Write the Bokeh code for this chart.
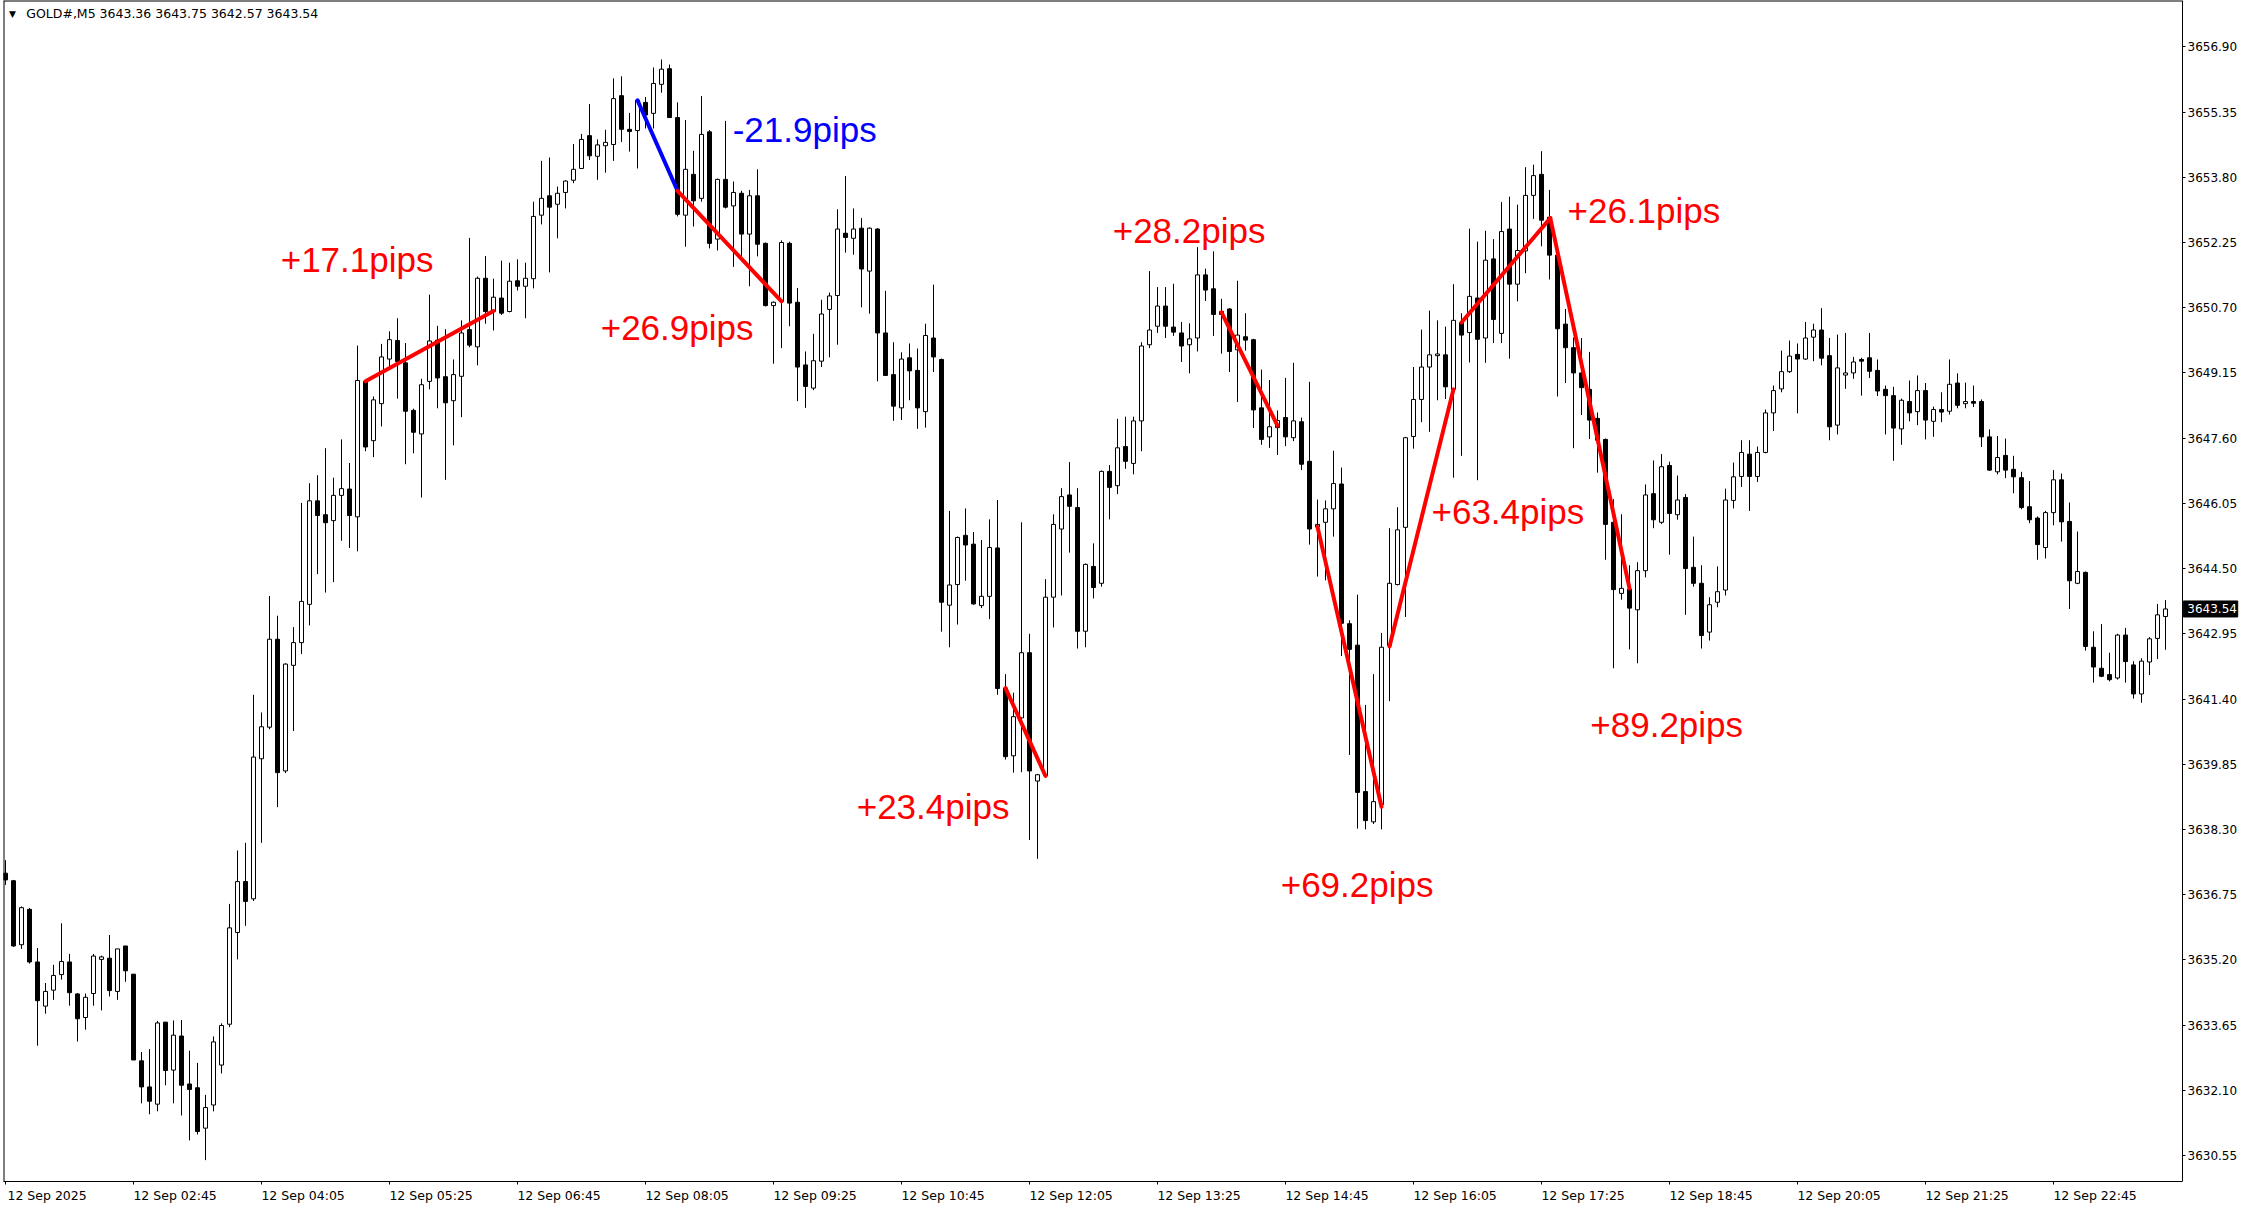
from bokeh.plotting import figure
from bokeh.models import (ColumnDataSource, FixedTicker, LinearAxis, NumeralTickFormatter,
                          CustomJSTickFormatter, Range1d)
from bokeh.embed import file_html
from bokeh.resources import INLINE
from bokeh.core.properties import value

symbol = "GOLD#,M5"

opens = [3637.26, 3637.08, 3635.56, 3636.40, 3635.15, 3634.10, 3634.48, 3634.85, 3635.15, 3634.39,
         3633.83, 3634.40, 3635.21, 3635.24, 3634.45, 3635.53, 3634.86, 3632.80, 3632.18, 3631.77,
         3633.72, 3632.58, 3633.39, 3632.25, 3632.16, 3631.20, 3631.75, 3632.70, 3633.67, 3635.85,
         3637.06, 3636.65, 3639.98, 3640.73, 3642.82, 3639.69, 3642.20, 3642.74, 3643.65, 3646.11,
         3645.78, 3645.64, 3646.24, 3646.39, 3645.73, 3648.95, 3647.54, 3648.42, 3649.48, 3649.92,
         3649.39, 3648.26, 3647.70, 3648.95, 3649.93, 3649.06, 3648.49, 3649.07, 3650.18, 3649.77,
         3651.40, 3650.61, 3650.93, 3650.61, 3651.34, 3651.21, 3651.39, 3652.90, 3653.36, 3653.16,
         3653.44, 3653.73, 3654.01, 3654.79, 3654.30, 3654.55, 3654.58, 3655.74, 3654.94, 3654.91,
         3655.58, 3655.32, 3656.01, 3656.38, 3655.22, 3652.90, 3653.87, 3653.30, 3654.88, 3652.33,
         3653.75, 3653.12, 3653.42, 3652.45, 3653.36, 3652.23, 3650.75, 3650.85, 3652.23, 3650.83,
         3649.34, 3648.79, 3649.43, 3650.66, 3650.99, 3652.47, 3652.35, 3652.59, 3651.57, 3652.57,
         3650.10, 3649.11, 3648.32, 3649.51, 3649.21, 3648.23, 3649.98, 3649.47, 3643.63, 3644.12,
         3645.29, 3645.08, 3643.62, 3643.84, 3644.99, 3641.66, 3640.05, 3640.95, 3642.50, 3639.45,
         3639.58, 3643.82, 3645.44, 3646.25, 3645.95, 3643.01, 3644.55, 3644.15, 3646.81, 3646.47,
         3647.40, 3647.00, 3648.01, 3649.82, 3650.26, 3650.74, 3650.24, 3650.10, 3649.82, 3649.98,
         3651.48, 3651.15, 3650.61, 3650.67, 3649.70, 3650.01, 3649.94, 3648.32, 3647.63, 3647.85,
         3648.09, 3647.61, 3647.99, 3647.05, 3645.49, 3645.60, 3645.92, 3646.51, 3643.19, 3642.68,
         3639.20, 3638.48, 3638.89, 3642.67, 3644.12, 3645.48, 3647.64, 3648.52, 3649.29, 3649.56,
         3649.58, 3648.76, 3650.35, 3650.11, 3650.93, 3649.98, 3651.86, 3650.09, 3652.57, 3651.26,
         3652.05, 3653.37, 3653.87, 3652.85, 3651.95, 3650.31, 3649.75, 3649.15, 3648.76, 3648.07,
         3647.57, 3645.60, 3643.91, 3644.01, 3643.52, 3644.45, 3646.28, 3645.60, 3646.95, 3645.78,
         3646.19, 3644.53, 3644.15, 3642.99, 3643.70, 3643.99, 3646.12, 3646.69, 3647.22, 3646.69,
         3647.26, 3648.20, 3648.77, 3649.18, 3649.59, 3649.48, 3650.00, 3650.17, 3649.56, 3647.91,
         3649.10, 3649.15, 3649.47, 3649.51, 3649.21, 3648.76, 3648.61, 3647.82, 3648.47, 3648.23,
         3648.73, 3648.00, 3648.28, 3648.24, 3648.91, 3648.42, 3648.47, 3648.47, 3647.63, 3646.80,
         3647.19, 3646.86, 3646.66, 3645.97, 3645.70, 3645.00, 3645.83, 3646.61, 3645.62, 3644.15,
         3644.41, 3642.63, 3642.13, 3641.98, 3641.90, 3642.92, 3642.21, 3641.52, 3642.28, 3642.84,
         3643.36]

highs = [3637.57, 3637.10, 3636.47, 3636.43, 3635.48, 3634.65, 3635.08, 3636.07, 3635.34, 3634.41,
         3634.40, 3635.34, 3635.30, 3635.79, 3635.46, 3635.53, 3634.86, 3633.01, 3633.08, 3633.75,
         3633.72, 3633.76, 3633.77, 3633.04, 3632.75, 3631.99, 3633.38, 3633.69, 3636.53, 3637.80,
         3637.98, 3641.50, 3641.08, 3643.85, 3643.38, 3642.25, 3643.11, 3646.06, 3646.53, 3646.72,
         3647.36, 3646.66, 3647.57, 3647.01, 3649.80, 3648.97, 3648.59, 3649.84, 3650.14, 3650.45,
         3649.86, 3648.30, 3649.01, 3651.01, 3650.27, 3650.19, 3649.47, 3650.40, 3652.36, 3651.44,
         3651.93, 3651.39, 3651.82, 3651.77, 3651.85, 3651.77, 3653.22, 3654.19, 3654.27, 3653.58,
         3653.73, 3654.59, 3654.83, 3655.54, 3654.70, 3654.93, 3656.15, 3656.20, 3655.33, 3655.63,
         3655.71, 3656.41, 3656.60, 3656.48, 3655.58, 3655.16, 3654.43, 3655.73, 3654.92, 3653.77,
         3655.14, 3653.70, 3653.48, 3653.50, 3653.99, 3652.25, 3650.85, 3652.30, 3652.27, 3651.17,
         3649.66, 3650.08, 3650.89, 3651.06, 3653.04, 3653.83, 3653.06, 3652.83, 3652.61, 3652.59,
         3651.10, 3649.88, 3649.64, 3649.85, 3649.73, 3650.32, 3651.25, 3649.49, 3645.87, 3645.26,
         3645.93, 3645.37, 3645.18, 3645.67, 3646.13, 3641.99, 3641.55, 3645.60, 3642.95, 3639.62,
         3644.25, 3645.79, 3646.41, 3647.03, 3646.41, 3644.62, 3645.10, 3646.83, 3646.96, 3648.06,
         3648.11, 3648.11, 3649.88, 3651.57, 3651.19, 3651.19, 3651.27, 3650.36, 3650.33, 3652.14,
         3651.63, 3652.04, 3650.91, 3650.69, 3651.34, 3650.57, 3649.96, 3649.23, 3648.98, 3648.26,
         3649.03, 3649.39, 3648.09, 3648.94, 3646.14, 3646.12, 3647.30, 3646.90, 3643.27, 3643.88,
         3641.26, 3641.99, 3642.97, 3645.46, 3645.96, 3647.63, 3649.29, 3650.18, 3650.63, 3650.40,
         3650.25, 3651.26, 3650.57, 3652.58, 3652.27, 3652.53, 3652.33, 3653.21, 3653.34, 3653.15,
         3654.04, 3654.10, 3654.42, 3653.50, 3651.97, 3650.67, 3649.99, 3649.98, 3649.65, 3648.21,
         3647.59, 3646.15, 3645.79, 3644.58, 3644.65, 3646.50, 3647.07, 3647.22, 3647.04, 3646.71,
         3646.27, 3645.26, 3644.58, 3643.82, 3644.55, 3646.40, 3647.02, 3647.55, 3647.55, 3647.40,
         3648.28, 3648.85, 3649.68, 3649.92, 3649.85, 3650.36, 3650.32, 3650.69, 3649.98, 3650.06,
         3650.10, 3649.53, 3649.51, 3650.10, 3649.47, 3648.85, 3648.82, 3648.54, 3648.97, 3649.09,
         3648.91, 3648.35, 3648.69, 3649.47, 3649.14, 3648.92, 3648.85, 3648.52, 3647.81, 3647.65,
         3647.59, 3647.18, 3646.80, 3646.58, 3645.74, 3645.87, 3646.84, 3646.76, 3646.07, 3645.38,
         3644.43, 3643.01, 3643.18, 3642.50, 3642.95, 3643.09, 3642.30, 3642.37, 3642.87, 3643.66,
         3643.75]

lows = [3636.98, 3635.51, 3635.46, 3635.11, 3633.16, 3633.92, 3634.25, 3634.73, 3634.11, 3633.26,
        3633.54, 3634.11, 3634.00, 3634.33, 3634.25, 3634.68, 3632.82, 3631.79, 3631.53, 3631.60,
        3632.22, 3631.79, 3631.50, 3630.91, 3631.05, 3630.44, 3631.60, 3632.50, 3633.60, 3635.21,
        3636.01, 3636.60, 3637.98, 3640.68, 3638.83, 3639.64, 3640.64, 3642.47, 3643.15, 3644.37,
        3643.93, 3644.18, 3645.16, 3644.99, 3644.91, 3647.29, 3647.15, 3647.88, 3649.31, 3648.54,
        3646.98, 3647.24, 3646.19, 3648.76, 3648.31, 3646.61, 3647.43, 3648.10, 3649.76, 3649.33,
        3650.32, 3650.16, 3650.53, 3650.59, 3651.11, 3650.45, 3651.16, 3652.68, 3651.54, 3652.35,
        3653.06, 3653.66, 3654.01, 3654.21, 3653.74, 3653.91, 3654.19, 3654.64, 3654.41, 3654.01,
        3654.96, 3654.96, 3655.81, 3655.22, 3652.87, 3652.15, 3652.63, 3653.22, 3652.11, 3652.06,
        3653.06, 3651.67, 3651.92, 3651.21, 3651.92, 3650.73, 3649.37, 3649.74, 3650.26, 3648.48,
        3648.32, 3648.74, 3649.29, 3649.52, 3649.82, 3652.01, 3651.96, 3650.71, 3650.56, 3648.95,
        3649.09, 3648.01, 3648.03, 3648.50, 3647.82, 3647.85, 3649.17, 3643.00, 3642.63, 3643.17,
        3644.21, 3643.64, 3643.56, 3643.30, 3641.50, 3639.96, 3639.65, 3639.66, 3638.05, 3637.60,
        3639.56, 3643.10, 3643.86, 3644.88, 3642.60, 3642.63, 3643.79, 3644.07, 3645.67, 3646.27,
        3646.87, 3646.74, 3647.29, 3649.74, 3650.10, 3649.98, 3650.03, 3649.41, 3649.14, 3649.66,
        3650.86, 3650.03, 3649.61, 3649.17, 3648.46, 3649.68, 3647.84, 3647.44, 3647.37, 3647.20,
        3647.41, 3647.53, 3646.84, 3645.07, 3644.31, 3644.22, 3645.26, 3642.42, 3640.07, 3638.32,
        3638.30, 3638.43, 3638.30, 3641.35, 3644.10, 3643.35, 3647.35, 3647.98, 3647.75, 3648.50,
        3648.53, 3646.66, 3647.18, 3649.40, 3646.60, 3649.39, 3649.86, 3649.86, 3649.49, 3650.85,
        3651.52, 3652.81, 3652.16, 3651.37, 3648.59, 3648.91, 3647.36, 3648.15, 3647.58, 3646.78,
        3644.71, 3642.13, 3643.76, 3642.58, 3642.25, 3644.29, 3645.46, 3645.56, 3644.83, 3645.66,
        3643.40, 3644.07, 3642.60, 3642.79, 3643.58, 3643.86, 3645.93, 3646.44, 3645.87, 3646.56,
        3647.24, 3647.77, 3648.69, 3649.15, 3648.19, 3649.46, 3649.43, 3649.33, 3647.55, 3647.69,
        3648.77, 3649.01, 3648.61, 3649.03, 3648.60, 3647.69, 3647.06, 3647.44, 3648.00, 3647.91,
        3647.57, 3647.63, 3647.98, 3648.16, 3648.31, 3648.31, 3648.34, 3647.39, 3646.82, 3646.74,
        3646.65, 3646.29, 3645.91, 3645.58, 3644.71, 3644.74, 3645.53, 3645.14, 3643.54, 3644.13,
        3642.55, 3641.79, 3641.92, 3641.82, 3641.86, 3641.79, 3641.41, 3641.31, 3641.97, 3642.35,
        3642.57]

closes = [3637.10, 3635.53, 3636.44, 3635.15, 3634.23, 3634.45, 3634.83, 3635.16, 3634.42, 3633.80,
          3634.31, 3635.29, 3635.27, 3634.47, 3635.46, 3634.94, 3632.82, 3632.18, 3631.84, 3633.70,
          3632.57, 3633.41, 3632.22, 3632.12, 3631.12, 3631.69, 3633.25, 3633.64, 3635.96, 3637.06,
          3636.59, 3640.02, 3640.74, 3642.82, 3639.65, 3642.23, 3642.74, 3643.72, 3646.11, 3645.76,
          3645.59, 3646.24, 3646.40, 3645.76, 3648.97, 3647.39, 3648.51, 3649.53, 3649.94, 3649.42,
          3648.24, 3647.74, 3648.87, 3649.91, 3649.03, 3648.44, 3649.11, 3650.10, 3649.81, 3651.40,
          3650.61, 3650.95, 3650.57, 3651.33, 3651.21, 3651.40, 3652.87, 3653.30, 3653.09, 3653.42,
          3653.71, 3653.99, 3654.70, 3654.31, 3654.57, 3654.63, 3655.67, 3654.94, 3654.89, 3655.63,
          3655.28, 3656.03, 3656.37, 3655.22, 3652.92, 3653.99, 3653.24, 3654.82, 3652.23, 3653.75,
          3653.09, 3653.44, 3652.45, 3653.36, 3652.21, 3650.75, 3650.83, 3652.25, 3650.81, 3649.29,
          3648.83, 3649.44, 3650.55, 3650.98, 3652.57, 3652.37, 3652.57, 3651.62, 3652.59, 3650.10,
          3649.09, 3648.36, 3649.48, 3649.20, 3648.32, 3650.04, 3649.53, 3643.70, 3644.11, 3645.24,
          3645.06, 3643.66, 3643.84, 3645.00, 3641.65, 3640.03, 3640.98, 3642.50, 3639.69, 3639.60,
          3643.82, 3645.55, 3646.21, 3645.98, 3643.01, 3644.60, 3644.05, 3646.81, 3646.43, 3647.37,
          3647.05, 3648.01, 3649.79, 3650.17, 3650.74, 3650.26, 3650.12, 3649.79, 3649.96, 3651.48,
          3651.12, 3650.54, 3650.54, 3649.66, 3650.05, 3649.93, 3648.27, 3647.57, 3647.87, 3648.02,
          3647.63, 3648.01, 3646.98, 3645.44, 3645.55, 3645.92, 3646.52, 3643.20, 3642.58, 3639.18,
          3638.51, 3638.96, 3642.63, 3644.15, 3645.42, 3647.61, 3648.52, 3649.29, 3649.58, 3649.60,
          3648.82, 3650.40, 3650.05, 3650.97, 3649.95, 3651.83, 3650.42, 3652.51, 3651.26, 3652.06,
          3653.37, 3653.84, 3652.78, 3651.95, 3650.20, 3649.75, 3649.15, 3648.80, 3648.03, 3647.55,
          3645.55, 3644.00, 3644.03, 3643.56, 3644.45, 3646.25, 3645.66, 3646.92, 3645.81, 3646.13,
          3644.50, 3644.15, 3642.91, 3643.64, 3643.95, 3646.13, 3646.68, 3647.26, 3646.69, 3647.26,
          3648.20, 3648.73, 3649.18, 3649.55, 3649.48, 3649.98, 3650.17, 3649.50, 3647.87, 3649.27,
          3649.15, 3649.41, 3649.43, 3649.19, 3648.72, 3648.61, 3647.84, 3648.50, 3648.20, 3648.73,
          3648.03, 3648.28, 3648.22, 3648.88, 3648.38, 3648.47, 3648.43, 3647.63, 3646.84, 3647.14,
          3646.84, 3646.68, 3645.95, 3645.66, 3645.07, 3645.83, 3646.61, 3645.61, 3644.21, 3644.43,
          3642.65, 3642.16, 3641.94, 3641.86, 3642.92, 3642.29, 3641.52, 3642.30, 3642.83, 3643.40,
          3643.54]

# time axis labels (one every 16 bars of 5 minutes)
time_labels = ["12 Sep 2025", "12 Sep 02:45", "12 Sep 04:05", "12 Sep 05:25", "12 Sep 06:45",
               "12 Sep 08:05", "12 Sep 09:25", "12 Sep 10:45", "12 Sep 12:05", "12 Sep 13:25",
               "12 Sep 14:45", "12 Sep 16:05", "12 Sep 17:25", "12 Sep 18:45", "12 Sep 20:05",
               "12 Sep 21:25", "12 Sep 22:45"]
label_bars = [0, 16, 32, 48, 64, 80, 96, 112, 128, 144, 160, 176, 192, 208, 224, 240, 256]

price_ticks = [3630.55, 3632.10, 3633.65, 3635.20, 3636.75, 3638.30, 3639.85, 3641.40, 3642.95,
               3644.50, 3646.05, 3647.60, 3649.15, 3650.70, 3652.25, 3653.80, 3655.35, 3656.90]

# trend-line annotations: (bar0, price0, bar1, price1, colour)
trend_lines = [
    (45, 3648.95, 61, 3650.62, "#FF0000"),
    (79, 3655.63, 84, 3653.48, "#0000FF"),
    (84, 3653.48, 97, 3650.85, "#FF0000"),
    (125, 3641.66, 130, 3639.57, "#FF0000"),
    (152, 3650.59, 159, 3647.90, "#FF0000"),
    (164, 3645.49, 172, 3638.84, "#FF0000"),
    (173, 3642.65, 181, 3648.76, "#FF0000"),
    (182, 3650.35, 193.1, 3652.83, "#FF0000"),
    (193.1, 3652.83, 203, 3644.03, "#FF0000"),
]
# pip labels: (text, bar, price, colour)
pip_labels = [
    ("+17.1pips", 34.4, 3651.84, "#FF0000"),
    ("-21.9pips", 90.9, 3654.94, "#0000FF"),
    ("+26.9pips", 74.4, 3650.23, "#FF0000"),
    ("+23.4pips", 106.4, 3638.85, "#FF0000"),
    ("+28.2pips", 138.4, 3652.53, "#FF0000"),
    ("+69.2pips", 159.4, 3636.99, "#FF0000"),
    ("+63.4pips", 178.25, 3645.86, "#FF0000"),
    ("+26.1pips", 195.25, 3653.02, "#FF0000"),
    ("+89.2pips", 198.1, 3640.79, "#FF0000"),
]

n = len(opens)
idx = list(range(n))

X0, X1 = -0.25, 279.25          # visible bar range (price scale column on the right)
SCALE_X = 272.125               # where the price scale sits
Y0, Y1 = 3629.932, 3658.002

p = figure(width=2239, height=1205, output_backend="svg", toolbar_location=None,
           x_range=Range1d(X0, X1), y_range=Range1d(Y0, Y1),
           x_axis_location=None, y_axis_location=None,
           min_border_left=3, min_border_top=0, min_border_right=0, min_border_bottom=21)
p.background_fill_color = "white"
p.border_fill_color = "white"
p.outline_line_color = None
p.grid.visible = False

# right price axis, fixed at the price-scale column
yaxis = LinearAxis(ticker=FixedTicker(ticks=price_ticks),
                   formatter=NumeralTickFormatter(format="0.00"), fixed_location=SCALE_X)
yaxis.axis_line_color = "black"
yaxis.major_tick_out = 3
yaxis.major_tick_in = 0
yaxis.major_tick_line_color = "black"
yaxis.minor_tick_line_color = None
yaxis.major_label_standoff = 2
yaxis.major_label_text_font = "DejaVu Sans"
yaxis.major_label_text_font_size = "12px"
yaxis.major_label_text_color = "black"
p.add_layout(yaxis, "right")

# bottom time axis: labels start at the tick, like MT4
label_centers = [b + 5.2 for b in label_bars]
xaxis = LinearAxis(ticker=FixedTicker(ticks=label_centers, minor_ticks=label_bars),
                   formatter=CustomJSTickFormatter(args=dict(labels=time_labels, centers=label_centers),
                                                   code="""
let best = 0, bd = 1e9;
for (let k = 0; k < centers.length; k++) {
  const d = Math.abs(centers[k] - tick);
  if (d < bd) { bd = d; best = k; }
}
return labels[best];
"""))
xaxis.bounds = (X0, SCALE_X)
xaxis.axis_line_color = "black"
xaxis.major_tick_line_color = None
xaxis.major_tick_out = 0
xaxis.major_tick_in = 0
xaxis.minor_tick_line_color = "black"
xaxis.minor_tick_out = 3
xaxis.minor_tick_in = 0
xaxis.major_label_standoff = 3
xaxis.major_label_text_font = "DejaVu Sans"
xaxis.major_label_text_font_size = "12.5px"
xaxis.major_label_text_color = "black"
p.add_layout(xaxis, "below")

# left and top borders of the chart area
p.segment(x0=[X0, X0], y0=[Y0, Y1], x1=[X0, SCALE_X], y1=[Y1, Y1], line_color="black", line_width=2)

# candles
p.segment(x0=idx, y0=lows, x1=idx, y1=highs, line_color="black", line_width=1)
bull = [i for i in idx if closes[i] >= opens[i]]
bear = [i for i in idx if closes[i] < opens[i]]
bull_src = ColumnDataSource(dict(x=bull, top=[closes[i] for i in bull], bottom=[opens[i] for i in bull]))
bear_src = ColumnDataSource(dict(x=bear, top=[opens[i] for i in bear], bottom=[closes[i] for i in bear]))
p.vbar(x="x", top="top", bottom="bottom", width=0.5, source=bull_src,
       fill_color="white", line_color="black", line_width=1)
p.vbar(x="x", top="top", bottom="bottom", width=0.5, source=bear_src,
       fill_color="black", line_color="black", line_width=1)

# trend lines
p.segment(x0=[t[0] for t in trend_lines], y0=[t[1] for t in trend_lines],
          x1=[t[2] for t in trend_lines], y1=[t[3] for t in trend_lines],
          line_color=[t[4] for t in trend_lines], line_width=4, line_cap="round")

# pip labels
p.text(x=[l[1] for l in pip_labels], y=[l[2] for l in pip_labels], text=[l[0] for l in pip_labels],
       text_color=[l[3] for l in pip_labels], text_font=value("Liberation Sans"),
       text_font_size="35px", text_align="left", text_baseline="middle")

# header
header = f"{symbol}  {opens[-1]:.2f} {highs[-1]:.2f} {lows[-1]:.2f} {closes[-1]:.2f}"
p.text(x=[0.45], y=[3657.69], text=["\u25BC"], text_font=value("DejaVu Sans"),
       text_font_size="9px", text_align="left", text_baseline="middle", text_color="black")
p.text(x=[2.6], y=[3657.69], text=[header], text_font=value("DejaVu Sans"),
       text_font_size="12.5px", text_align="left", text_baseline="middle", text_color="black")

# current price marker on the price scale
p.rect(x=[SCALE_X + 3.5], y=[closes[-1]], width=6.8, height=0.38,
       fill_color="black", line_color="black")
p.text(x=[SCALE_X + 0.6], y=[closes[-1]], text=[f"{closes[-1]:.2f}"], text_color="white",
       text_font=value("DejaVu Sans"), text_font_size="12px",
       text_align="left", text_baseline="middle")

open("out.html", "w").write(file_html(p, INLINE))
